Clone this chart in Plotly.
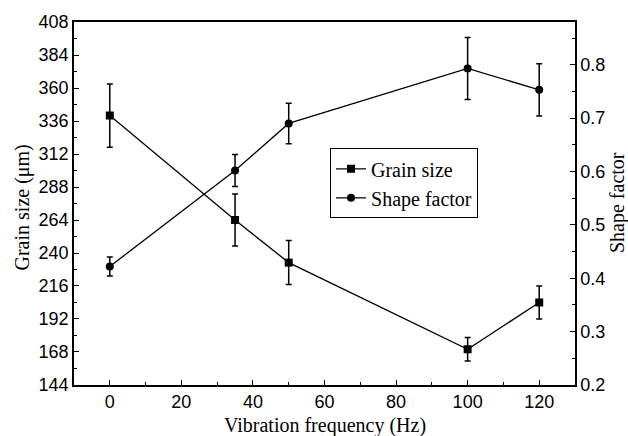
import plotly.graph_objects as go

# Data
freq = [0, 35, 50, 100, 120]
grain_size = [340, 264, 233, 170, 204]
grain_err = [23, 19, 16, 8.5, 12]
shape_factor = [0.422, 0.602, 0.69, 0.793, 0.753]
shape_err = [0.018, 0.030, 0.038, 0.058, 0.049]

x_ticks = [0, 20, 40, 60, 80, 100, 120]
y_ticks = [144, 168, 192, 216, 240, 264, 288, 312, 336, 360, 384, 408]
y2_ticks = [0.2, 0.3, 0.4, 0.5, 0.6, 0.7, 0.8]

SANS = "Arial, Liberation Sans, sans-serif"
SERIF = "Times New Roman, Liberation Serif, serif"

fig = go.Figure()
fig.add_trace(go.Scatter(
    x=freq, y=grain_size, name="Grain size", mode="lines+markers",
    line=dict(color="black", width=1.3),
    marker=dict(symbol="square", size=8, color="black"),
    error_y=dict(type="data", array=grain_err, visible=True, color="black",
                 thickness=1.5, width=3),
    yaxis="y"))
fig.add_trace(go.Scatter(
    x=freq, y=shape_factor, name="Shape factor", mode="lines+markers",
    line=dict(color="black", width=1.3),
    marker=dict(symbol="circle", size=8, color="black"),
    error_y=dict(type="data", array=shape_err, visible=True, color="black",
                 thickness=1.5, width=3),
    yaxis="y2"))

axis_common = dict(showgrid=False, zeroline=False, showline=True,
                   linecolor="black", linewidth=1.5, ticks="inside",
                   tickcolor="black", tickwidth=1.3, ticklen=5,
                   tickfont=dict(family=SANS, size=18, color="black"))

fig.update_layout(
    width=628, height=436,
    margin=dict(l=74, r=53, t=13, b=51),
    paper_bgcolor="white", plot_bgcolor="white",
    xaxis=dict(range=[-10, 130], tickvals=x_ticks, mirror=True,
               minor=dict(dtick=10, tick0=0, ticks="inside", ticklen=3,
                          tickcolor="black", tickwidth=1.2),
               **axis_common),
    yaxis=dict(range=[143.99, 408.01], tickvals=y_ticks,
               minor=dict(dtick=12, tick0=144, ticks="inside", ticklen=3,
                          tickcolor="black", tickwidth=1.2),
               **axis_common),
    yaxis2=dict(range=[0.2, 0.88], tickvals=y2_ticks, tickformat=".1f",
                overlaying="y", side="right",
                minor=dict(dtick=0.05, tick0=0.2, ticks="inside", ticklen=3,
                           tickcolor="black", tickwidth=1.2),
                **axis_common),
    showlegend=True,
    legend=dict(x=0.511, y=0.652, xanchor="left", yanchor="top",
                bordercolor="black", borderwidth=1, bgcolor="white",
                font=dict(family=SERIF, size=20, color="black"),
                itemwidth=30, tracegroupgap=2),
    annotations=[
        dict(text="Grain size (\u03bcm)", xref="paper", yref="paper",
             x=-0.1038, y=0.489, xanchor="center", yanchor="middle",
             textangle=-90, showarrow=False,
             font=dict(family=SERIF, size=20, color="black")),
        dict(text="Shape factor", xref="paper", yref="paper",
             x=1.0838, y=0.504, xanchor="center", yanchor="middle",
             textangle=-90, showarrow=False,
             font=dict(family=SERIF, size=20, color="black")),
        dict(text="Vibration frequency (Hz)", xref="paper", yref="paper",
             x=0.5, y=-0.112, xanchor="center", yanchor="middle",
             showarrow=False,
             font=dict(family=SERIF, size=20, color="black")),
    ],
)

fig.write_html("out.html")
